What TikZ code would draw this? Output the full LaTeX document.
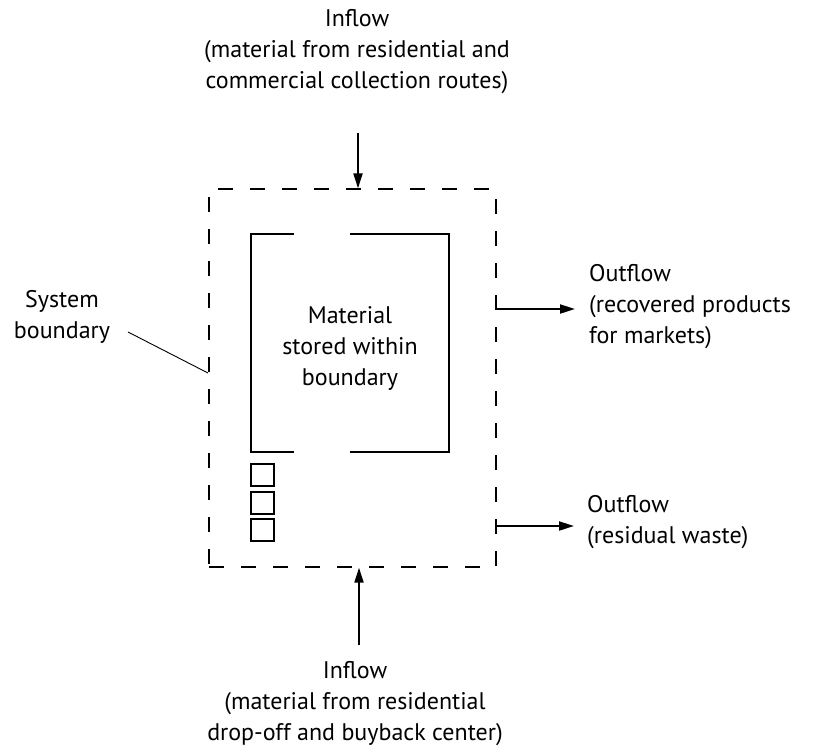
\documentclass[tikz,border=0pt]{standalone}
\usepackage{fontspec}
\setmainfont{PT Sans}
\usetikzlibrary{arrows.meta}
\begin{document}
\begin{tikzpicture}[x=1pt,y=-1pt,
 lbl/.style={align=center,font=\fontsize{24}{31}\selectfont,inner sep=0pt,anchor=base},
 lblL/.style={align=left,font=\fontsize{24}{31}\selectfont,inner sep=0pt,anchor=base west},
 flow/.style={line width=2pt,-{Triangle[length=15pt,width=9pt]}},
 wall/.style={line width=2.6pt},
 bound/.style={draw,line width=1.3pt,dash pattern=on 15pt off 17pt,inner sep=0pt,minimum width=287pt,minimum height=378pt},
 leader/.style={line width=0.9pt},
]
\useasboundingbox (0,0) rectangle (817,748);
% system boundary
\node[bound] (sys) at (352.5,378) {};
% stored material walls
\draw[wall] (294,234) -- (251,234) -- (251,452) -- (294,452);
\draw[wall] (350,234) -- (449,234) -- (449,452) -- (350,452);
% small squares
\draw[wall] (251,464) rectangle (274,486);
\draw[wall] (251,492) rectangle (274,514);
\draw[wall] (251,519) rectangle (274,541);
% labels (anchored at the baseline of their last line)
\node[lbl] (intop) at (357,88) {Inflow\\(material from residential and\\commercial collection routes)};
\node[lbl] (inbot) at (355,740) {Inflow\\(material from residential\\drop-off and buyback center)};
\node[lbl] (store) at (350,385) {Material\\stored within\\boundary};
\node[lbl] (sysb) at (62,338) {System\\boundary};
\node[lblL] (out1) at (589,343) {Outflow\\(recovered products\\for markets)};
\node[lblL] (out2) at (587,543) {Outflow\\(residual waste)};
% flows
\coordinate (t0) at (358,133);
\draw[flow] (t0) -- (sys.north -| t0);
\coordinate (b0) at (359,645);
\draw[flow] (b0) -- (sys.south -| b0);
\coordinate (r1) at (575,309);
\draw[flow] (sys.east |- r1) -- (r1);
\coordinate (r2) at (574,526);
\draw[flow] (sys.east |- r2) -- (r2);
% leader
\coordinate (l0) at (128,332);
\coordinate (l1) at (208,373);
\draw[leader] (l0) -- (l1);
\end{tikzpicture}
\end{document}
